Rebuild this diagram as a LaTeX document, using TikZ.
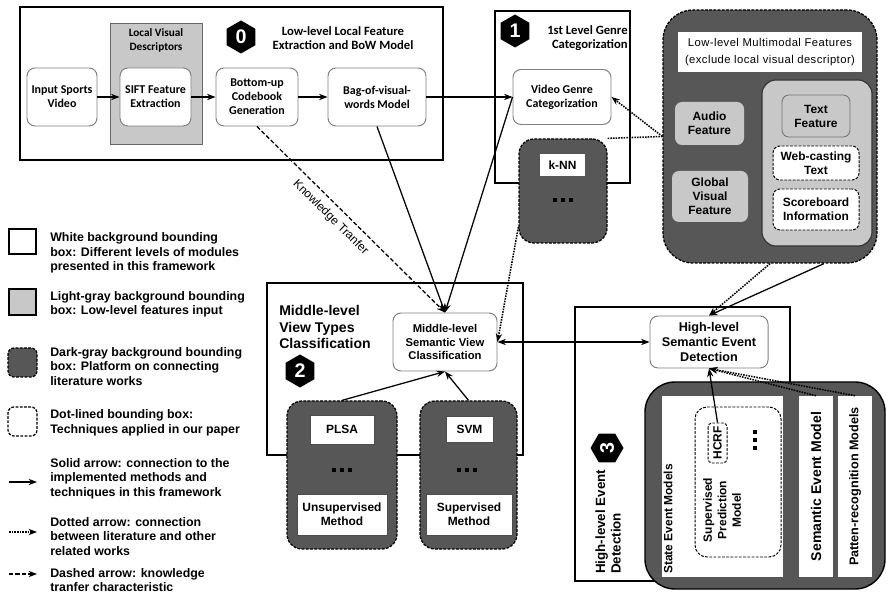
\documentclass[tikz,border=0pt]{standalone}
\usepackage{fontspec}
\setmainfont{Liberation Sans}
\newfontfamily\calibrifont{Carlito}
\usetikzlibrary{arrows.meta,shapes.geometric,calc}
\newlength\unitpx
\setlength\unitpx{0.025cm}
\definecolor{darkfill}{HTML}{575757}
\definecolor{lightfill}{HTML}{C8C8C8}
\definecolor{edgegray}{HTML}{808080}
\newcommand\tripledots{\rule{2.9pt}{2.9pt}\hspace{2.6pt}\rule{2.9pt}{2.9pt}\hspace{2.6pt}\rule{2.9pt}{2.9pt}}
\tikzset{
  sz/.style 2 args={minimum width=#1\unitpx, minimum height=#2\unitpx},
  frame/.style={draw=black, line width=1.1pt, fill=white, inner sep=0pt},
  module/.style={draw=edgegray, line width=0.7pt, fill=white, rounded corners=8\unitpx,
    align=center, inner sep=1pt, font=\bfseries\fontsize{8}{9.5}\selectfont},
  calmodule/.style={module, font=\calibrifont\bfseries\fontsize{8.5}{10}\selectfont},
  platform/.style={draw=black, dash pattern=on 2pt off 1pt, line width=0.9pt, fill=darkfill,
    rounded corners=15\unitpx, inner sep=0pt},
  whitetag/.style={draw=black!70, line width=0.5pt, fill=white, align=center, inner sep=1pt,
    font=\bfseries\fontsize{8.5}{10}\selectfont},
  lightbox/.style={draw=black!55, line width=0.6pt, fill=lightfill, rounded corners=7\unitpx, align=center,
    inner sep=1pt, font=\bfseries\fontsize{8.5}{10}\selectfont},
  dotbox/.style={draw=black, dash pattern=on 2pt off 1pt, line width=0.7pt, fill=white, rounded corners=7\unitpx,
    align=center, inner sep=1pt, font=\bfseries\fontsize{8.5}{10}\selectfont},
  hexa/.style={regular polygon, regular polygon sides=6, shape border rotate=30, fill=black, text=white,
    minimum size=33\unitpx, inner sep=0pt, font=\bfseries\fontsize{14}{14}\selectfont},
  bigtitle/.style={align=left, inner sep=0pt, font=\bfseries\fontsize{10}{11.5}\selectfont},
  caltitle/.style={inner sep=0pt, font=\calibrifont\bfseries\fontsize{9}{9.5}\selectfont},
  legtext/.style={anchor=west, align=left, inner sep=0pt, font=\bfseries\fontsize{8.8}{10.3}\selectfont},
  tip/.style={-{Stealth[length=6pt,width=4.5pt]}},
  link/.style={tip, line width=0.9pt},
  dotlink/.style={tip, line width=1.1pt, dash pattern=on 1.1pt off 0.8pt},
  dashlink/.style={link, dash pattern=on 3pt off 1.6pt},
}
\begin{document}
\begin{tikzpicture}[x=0.025cm, y=-0.025cm]
\fill[white] (0,0) rectangle (888,596);
\path[use as bounding box] (0,0) rectangle (888,596);

% ---- level 0: local features and BoW model
\node[frame, line width=1.4pt, sz={423}{153}] (f0) at (231.5,83.5) {};
\node[draw=black!60, line width=0.6pt, fill=lightfill, sz={92}{121}] (lvd) at (156,83.5) {};
\node[caltitle, align=center, font=\calibrifont\bfseries\fontsize{8}{10}\selectfont] (lvdt) at (156,40) {Local Visual\\Descriptors};
\node[hexa] (h0) at (241,37) {0};
\node[caltitle, align=center] (t0) at (343,38) {Low-level Local Feature\\Extraction and BoW Model};
\node[calmodule, sz={70}{58}] (input) at (62,97) {Input Sports\\Video};
\node[calmodule, sz={71}{58}] (sift) at (155.5,97) {SIFT Feature\\Extraction};
\node[calmodule, sz={82}{58}] (codebook) at (257,97) {Bottom-up\\Codebook\\Generation};
\node[calmodule, sz={98}{58}] (bow) at (377,97) {Bag-of-visual-\\words Model};

% ---- level 1: genre categorization
\node[frame, sz={135}{172}] (f1) at (562.5,97) {};
\node[hexa] (h1) at (515,31) {1};
\node[caltitle, align=right, anchor=east] (t1) at (628,38) {1st Level Genre\\Categorization};
\node[calmodule, sz={98}{55}] (vgc) at (562,97) {Video Genre\\Categorization};
\node[platform, sz={88}{104}] (knn) at (563,191) {};
\node[whitetag, draw=none, sz={45}{22}] (knnl) at (562.5,165) {k-NN};
\node[inner sep=0pt] (knnd) at (563,200) {\tripledots};

% ---- low-level multimodal features
\node[platform, rounded corners=30\unitpx, sz={214}{253}] (mm) at (770,136.5) {};
\node[fill=white, sz={184}{40}, align=center, inner sep=0pt,
  font=\addfontfeatures{LetterSpace=4}\fontsize{8}{12}\selectfont] (mmt) at (770,52)
  {Low-level Multimodal Features\\(exclude local visual descriptor)};
\node[lightbox, draw=none, sz={69}{43}] (audio) at (709.5,123.5) {Audio\\Feature};
\node[lightbox, draw=none, sz={76}{51}] (global) at (710,196.5) {Global\\Visual\\Feature};
\node[lightbox, draw=black!80, line width=0.8pt, rounded corners=14\unitpx, sz={110}{166}] (tg) at (817,163) {};
\node[lightbox, sz={68}{42}] (textf) at (816,116) {Text\\Feature};
\node[dotbox, sz={86}{34}] (web) at (816,163) {Web-casting\\Text};
\node[dotbox, sz={86}{41}] (score) at (816,209.5) {Scoreboard\\Information};

% ---- level 2: view types classification
\node[frame, sz={256}{172}] (f2) at (395,369) {};
\node[bigtitle, anchor=west] (t2) at (279,327) {Middle-level\\View Types\\Classification};
\node[hexa] (h2) at (300,371) {2};
\node[module, sz={104}{58}] (msvc) at (445,342) {Middle-level\\Semantic View\\Classification};
\node[platform, sz={110}{148}] (plsa) at (342,475) {};
\node[whitetag, sz={64}{29}] (plsal) at (342,429.5) {PLSA};
\node[inner sep=0pt] (plsad) at (342,470) {\tripledots};
\node[whitetag, sz={90}{41}] (unsup) at (342,514.5) {Unsupervised\\Method};
\node[platform, sz={97}{148}] (svm) at (468.5,475) {};
\node[whitetag, sz={47}{26}] (svml) at (469.5,429) {SVM};
\node[inner sep=0pt] (svmd) at (467,470) {\tripledots};
\node[whitetag, sz={86}{41}] (sup) at (469,514.5) {Supervised\\Method};

% ---- level 3: event detection
\node[frame, sz={215}{274}] (f3) at (682.5,444) {};
\node[bigtitle, rotate=90, anchor=west, font=\bfseries\fontsize{9.5}{11}\selectfont] (t3) at (608,574) {High-level Event\\Detection};
\node[hexa, rotate=90] (h3) at (607,448) {3};
\node[module, font=\bfseries\fontsize{9}{10.5}\selectfont, sz={118}{52}] (sed) at (709,342) {High-level\\Semantic Event\\Detection};
\node[platform, solid, line width=1pt, rounded corners=30\unitpx, sz={240}{207}] (ev) at (765,485.5) {};
\node[fill=white, inner sep=0pt, sz={121}{181}] (state) at (722.5,486.5) {};
\node[rotate=90, inner sep=0pt, anchor=west, font=\bfseries\fontsize{8.5}{10}\selectfont] (statel) at (668,574) {State Event Models};
\node[dotbox, sz={86}{150}, rounded corners=12\unitpx] (spm) at (738,482) {};
\node[rotate=90, align=center, inner sep=0pt, font=\bfseries\fontsize{8.5}{10.3}\selectfont] (spml) at (722,510) {Supervised\\Prediction\\Model};
\node[dotbox, rotate=90, sz={40}{19}, rounded corners=4\unitpx] (hcrf) at (717.5,443) {HCRF};
\node[rotate=90, inner sep=0pt] (hcrfd) at (755,440) {\tripledots};
\node[fill=white, rotate=90, inner sep=0pt, sz={181}{34}, font=\bfseries\fontsize{10}{10}\selectfont] (sem) at (816,486.5) {Semantic Event Model};
\node[fill=white, rotate=90, inner sep=0pt, sz={181}{34}, font=\bfseries\fontsize{9}{9}\selectfont] (pat) at (855,486.5) {Patten-recognition Models};

% ---- connectors
\draw[link] (input) -- (sift);
\draw[link] (sift) -- (codebook);
\draw[link] (codebook) -- (bow);
\draw[link] (bow) -- (vgc);
\draw[dashlink] (codebook.south) -- node[sloped, below=1.5pt, pos=0.44, font=\fontsize{8.5}{8.5}\selectfont] {Knowledge Tranfer} (msvc.north);
\draw[link] (bow.south) -- (msvc.north);
\draw[link] (vgc.west) -- (msvc.north);
\draw[dotlink] (mm.west) -- (vgc.east);
\draw[dotlink, -] (knn.north east) -- (mm.west);
\draw[dotlink] (knn.219) -- (msvc.east);
\draw[{Stealth[length=6pt,width=4.5pt]}-{Stealth[length=6pt,width=4.5pt]}, line width=0.9pt] (msvc.east) -- (sed.west);
\draw[dotlink] (mm.south) -- (sed.north);
\draw[link] (mm.-67.6) -- (sed.north);
\draw[link] (hcrf.east) -- (sed.south);
\draw[dotlink] (sem.east) -- (sed.south);
\draw[dotlink] (pat.east) -- (sed.south);
\draw[link] (plsa.north) -- (msvc.south);
\draw[link] (svm.north) -- (msvc.south);

% ---- legend
\node[frame, line width=1pt, sz={27}{25}] (lg1) at (22.5,241.5) {};
\node[legtext] (lgt1) at (50,253) {White background bounding\\box: Different levels of modules\\presented in this framework};
\node[draw=black, line width=1pt, fill=lightfill, sz={27}{26}] (lg2) at (22.5,302) {};
\node[legtext] (lgt2) at (50,304.5) {Light-gray background bounding\\box: Low-level features input};
\node[platform, rounded corners=6\unitpx, sz={29}{29}] (lg3) at (22.5,362.5) {};
\node[legtext] (lgt3) at (50,366.5) {Dark-gray background bounding\\box: Platform on connecting\\literature works};
\node[dotbox, line width=0.9pt, rounded corners=6\unitpx, sz={29}{29}] (lg4) at (22.5,421.5) {};
\node[legtext] (lgt4) at (50,423) {Dot-lined bounding box:\\Techniques applied in our paper};
\coordinate (la5) at (9,482);
\coordinate (lb5) at (37,482);
\draw[link] (la5) -- (lb5);
\node[legtext] (lgt5) at (50,478.5) {Solid arrow: connection to the\\implemented methods and\\techniques in this framework};
\coordinate (la6) at (9,532);
\coordinate (lb6) at (37,532);
\draw[dotlink] (la6) -- (lb6);
\node[legtext] (lgt6) at (50,536.5) {Dotted arrow: connection\\between literature and other\\related works};
\coordinate (la7) at (9,574);
\coordinate (lb7) at (37,574);
\draw[dashlink] (la7) -- (lb7);
\node[legtext] (lgt7) at (50,580) {Dashed arrow: knowledge\\tranfer characteristic};
\end{tikzpicture}
\end{document}
